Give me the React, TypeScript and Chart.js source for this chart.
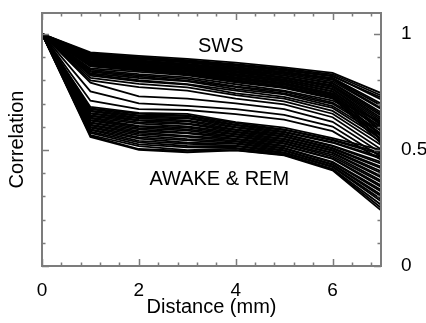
import React, { useEffect, useRef } from "react";
import { Chart, registerables } from "chart.js";

Chart.register(...registerables);

const distances = [0, 1, 2, 3, 4, 5, 6, 7];

// SWS bundle (upper)
const swsLines: number[][] = [
  [1, 0.92, 0.905, 0.892, 0.876, 0.856, 0.832, 0.745],
  [1, 0.916, 0.9, 0.887, 0.87, 0.85, 0.826, 0.735],
  [1, 0.913, 0.899, 0.884, 0.866, 0.846, 0.82, 0.718],
  [1, 0.91, 0.894, 0.881, 0.862, 0.842, 0.817, 0.726],
  [1, 0.909, 0.893, 0.878, 0.857, 0.836, 0.81, 0.7],
  [1, 0.905, 0.891, 0.876, 0.856, 0.835, 0.806, 0.692],
  [1, 0.903, 0.886, 0.871, 0.851, 0.831, 0.802, 0.68],
  [1, 0.9, 0.885, 0.869, 0.847, 0.827, 0.796, 0.676],
  [1, 0.899, 0.883, 0.867, 0.846, 0.82, 0.789, 0.662],
  [1, 0.896, 0.879, 0.864, 0.841, 0.821, 0.786, 0.655],
  [1, 0.892, 0.877, 0.861, 0.839, 0.814, 0.779, 0.648],
  [1, 0.891, 0.873, 0.857, 0.834, 0.811, 0.776, 0.638],
  [1, 0.888, 0.872, 0.855, 0.833, 0.809, 0.771, 0.63],
  [1, 0.884, 0.868, 0.853, 0.828, 0.804, 0.764, 0.622],
  [1, 0.883, 0.865, 0.849, 0.826, 0.801, 0.761, 0.612],
  [1, 0.879, 0.863, 0.847, 0.821, 0.796, 0.754, 0.607],
  [1, 0.878, 0.861, 0.843, 0.819, 0.794, 0.751, 0.596],
  [1, 0.875, 0.857, 0.841, 0.814, 0.789, 0.744, 0.588],
  [1, 0.872, 0.856, 0.837, 0.812, 0.787, 0.743, 0.582],
  [1, 0.87, 0.851, 0.836, 0.807, 0.782, 0.737, 0.568],
  [1, 0.866, 0.85, 0.831, 0.806, 0.781, 0.736, 0.561],
  [1, 0.865, 0.846, 0.83, 0.801, 0.775, 0.731, 0.548],
  [1, 0.862, 0.845, 0.827, 0.8, 0.774, 0.729, 0.541],
  [1, 0.86, 0.842, 0.826, 0.796, 0.769, 0.724, 0.528],
];

// lines lying between the two bundles
const transitionLines: number[][] = [
  [1, 0.851, 0.836, 0.821, 0.791, 0.766, 0.721, 0.621],
  [1, 0.846, 0.827, 0.813, 0.783, 0.756, 0.713, 0.603],
  [1, 0.841, 0.821, 0.806, 0.774, 0.751, 0.704, 0.584],
  [1, 0.836, 0.816, 0.799, 0.771, 0.744, 0.699, 0.572],
  [1, 0.83, 0.81, 0.796, 0.762, 0.739, 0.689, 0.561],
  [1, 0.826, 0.801, 0.784, 0.756, 0.729, 0.681, 0.549],
  [1, 0.82, 0.796, 0.781, 0.744, 0.721, 0.668, 0.536],
  [1, 0.81, 0.785, 0.77, 0.736, 0.709, 0.656, 0.521],
  [1, 0.8, 0.771, 0.756, 0.721, 0.696, 0.641, 0.503],
  [1, 0.79, 0.731, 0.721, 0.701, 0.676, 0.621, 0.488],
  [1, 0.752, 0.701, 0.69, 0.676, 0.651, 0.601, 0.471],
  [1, 0.712, 0.676, 0.672, 0.654, 0.631, 0.581, 0.458],
];

// AWAKE & REM bundle (lower)
const awakeLines: number[][] = [
  [1, 0.685, 0.66, 0.655, 0.62, 0.596, 0.551, 0.5],
  [1, 0.679, 0.656, 0.649, 0.616, 0.589, 0.544, 0.488],
  [1, 0.676, 0.649, 0.646, 0.609, 0.586, 0.541, 0.481],
  [1, 0.669, 0.646, 0.639, 0.606, 0.579, 0.534, 0.469],
  [1, 0.666, 0.639, 0.636, 0.599, 0.576, 0.531, 0.462],
  [1, 0.659, 0.636, 0.627, 0.596, 0.569, 0.519, 0.448],
  [1, 0.656, 0.629, 0.623, 0.589, 0.566, 0.516, 0.441],
  [1, 0.649, 0.626, 0.614, 0.586, 0.559, 0.509, 0.428],
  [1, 0.646, 0.619, 0.611, 0.579, 0.556, 0.506, 0.421],
  [1, 0.639, 0.613, 0.601, 0.576, 0.549, 0.499, 0.408],
  [1, 0.636, 0.604, 0.596, 0.569, 0.546, 0.496, 0.401],
  [1, 0.629, 0.601, 0.589, 0.566, 0.539, 0.489, 0.388],
  [1, 0.626, 0.594, 0.583, 0.559, 0.536, 0.486, 0.381],
  [1, 0.619, 0.589, 0.574, 0.556, 0.529, 0.479, 0.368],
  [1, 0.616, 0.581, 0.571, 0.549, 0.526, 0.471, 0.361],
  [1, 0.609, 0.576, 0.561, 0.546, 0.519, 0.464, 0.348],
  [1, 0.606, 0.569, 0.556, 0.539, 0.516, 0.461, 0.341],
  [1, 0.599, 0.563, 0.547, 0.536, 0.509, 0.449, 0.328],
  [1, 0.596, 0.554, 0.541, 0.529, 0.506, 0.446, 0.321],
  [1, 0.589, 0.549, 0.531, 0.526, 0.499, 0.439, 0.308],
  [1, 0.586, 0.539, 0.526, 0.519, 0.496, 0.436, 0.301],
  [1, 0.579, 0.533, 0.517, 0.516, 0.489, 0.429, 0.288],
  [1, 0.573, 0.524, 0.511, 0.509, 0.486, 0.426, 0.279],
  [1, 0.564, 0.516, 0.499, 0.506, 0.481, 0.419, 0.264],
  [1, 0.561, 0.504, 0.496, 0.499, 0.479, 0.416, 0.251],
  [1, 0.556, 0.5, 0.49, 0.498, 0.477, 0.412, 0.24],
];

const xTickLabels = [0, 2, 4, 6];
const yTickLabels = [0, 0.5, 1];
const yTickText = ["0", "0.5", "1"];
const xTitle = "Distance (mm)";
const yTitle = "Correlation";
const swsLabel = { text: "SWS", x: 3.69, y: 0.947 };
const awakeLabel = { text: "AWAKE & REM", x: 3.66, y: 0.372 };

const FONT = "'Liberation Sans', Arial, Helvetica, sans-serif";
const FRAME = "#7c7c7c";

const framePlugin = {
  id: "framePlugin",
  afterDatasetsDraw(chart: any) {
    const { ctx, chartArea: a, scales } = chart;
    const xs = scales.x;
    const ys = scales.y;
    ctx.save();
    ctx.fillStyle = "#000";
    ctx.font = `20px ${FONT}`;
    ctx.textAlign = "center";
    ctx.textBaseline = "middle";
    for (const lab of [swsLabel, awakeLabel]) {
      ctx.fillText(lab.text, xs.getPixelForValue(lab.x), ys.getPixelForValue(lab.y));
    }
    ctx.strokeStyle = FRAME;
    ctx.lineWidth = 2;
    ctx.strokeRect(a.left, a.top, a.right - a.left, a.bottom - a.top);
    ctx.lineWidth = 1.5;
    ctx.beginPath();
    for (let i = 0; i * 0.4 <= 7.0001; i++) {
      const v = i * 0.4;
      const major = i % 5 === 0;
      const len = major ? 7 : 3.5;
      const px = Math.round(xs.getPixelForValue(v)) + 0.5;
      ctx.moveTo(px, a.bottom);
      ctx.lineTo(px, a.bottom - len);
      ctx.moveTo(px, a.top);
      ctx.lineTo(px, a.top + len);
    }
    for (let i = 0; i * 0.1 <= 1.0801; i++) {
      const v = i * 0.1;
      const major = i % 5 === 0;
      const len = major ? 7 : 3.5;
      const py = Math.round(ys.getPixelForValue(v)) + 0.5;
      ctx.moveTo(a.left, py);
      ctx.lineTo(a.left + len, py);
      ctx.moveTo(a.right, py);
      ctx.lineTo(a.right - len, py);
    }
    ctx.stroke();
    ctx.restore();
  },
};

export default function App() {
  const ref = useRef<HTMLCanvasElement | null>(null);

  useEffect(() => {
    document.body.style.margin = "0";
    const canvas = ref.current;
    if (!canvas) return;
    const mk = (vals: number[]) => ({
      data: distances.map((d, i) => ({ x: d, y: vals[i] })),
      borderColor: "#000",
      borderWidth: 1.8,
      pointRadius: 0,
      tension: 0,
      fill: false,
      xAxisID: "x",
      yAxisID: "y",
    });
    const datasets = [
      ...swsLines.map(mk),
      ...transitionLines.map(mk),
      ...awakeLines.map(mk),
    ];
    const chart = new Chart(canvas, {
      type: "line",
      data: { datasets },
      plugins: [framePlugin],
      options: {
        animation: false,
        responsive: false,
        devicePixelRatio: 1,
        layout: { padding: { top: 13, left: 0, right: 0, bottom: 0 } },
        plugins: { legend: { display: false }, tooltip: { enabled: false } },
        scales: {
          x: {
            type: "linear",
            position: "bottom",
            min: 0,
            max: 7,
            afterBuildTicks: (s: any) => {
              s.ticks = xTickLabels.map((v) => ({ value: v }));
            },
            ticks: { color: "#000", font: { family: FONT, size: 19 }, padding: 5, maxRotation: 0 },
            grid: { display: false },
            border: { display: false },
            title: {
              display: true,
              text: xTitle,
              color: "#000",
              font: { family: FONT, size: 20 },
              padding: { top: 0, bottom: 4 },
            },
            afterFit: (s: any) => {
              s.height = 57;
              s.paddingLeft = 0;
              s.paddingRight = 0;
            },
          },
          y: {
            type: "linear",
            position: "right",
            min: 0,
            max: 1.09,
            afterBuildTicks: (s: any) => {
              s.ticks = yTickLabels.map((v) => ({ value: v }));
            },
            ticks: {
              color: "#000",
              font: { family: FONT, size: 19 },
              padding: 12,
              callback: (_v: any, i: number) => yTickText[i],
            },
            grid: { display: false },
            border: { display: false },
            afterFit: (s: any) => {
              s.width = 45;
              s.paddingTop = 0;
              s.paddingBottom = 0;
            },
          },
          yl: {
            type: "linear",
            position: "left",
            min: 0,
            max: 1.09,
            ticks: { display: false },
            grid: { display: false },
            border: { display: false },
            title: {
              display: true,
              text: yTitle,
              color: "#000",
              font: { family: FONT, size: 20 },
              padding: { top: 5, bottom: 0 },
            },
            afterFit: (s: any) => {
              s.width = 42;
              s.paddingTop = 0;
              s.paddingBottom = 0;
            },
          },
        },
      },
    });
    return () => chart.destroy();
  }, []);

  return (
    <div style={{ width: 426, height: 323 }}>
      <canvas ref={ref} width={426} height={323} />
    </div>
  );
}
